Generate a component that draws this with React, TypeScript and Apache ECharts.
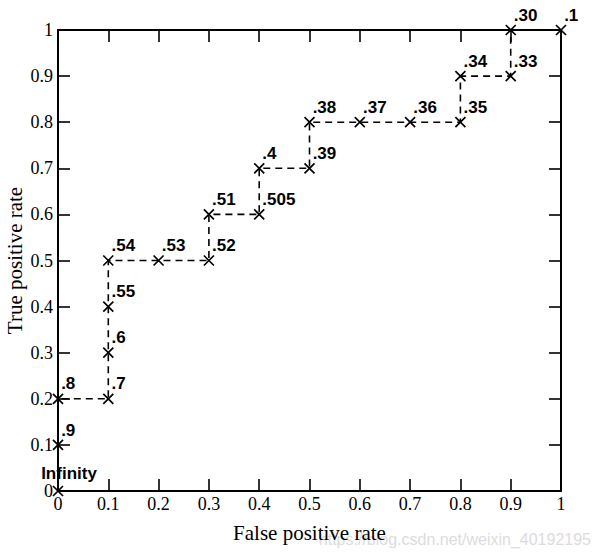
import React, { useEffect, useRef } from "react";
import * as echarts from "echarts";

const fpr = [0, 0, 0, 0.1, 0.1, 0.1, 0.1, 0.2, 0.3, 0.3, 0.4, 0.4, 0.5, 0.5, 0.6, 0.7, 0.8, 0.8, 0.9, 0.9, 1.0];
const tpr = [0, 0.1, 0.2, 0.2, 0.3, 0.4, 0.5, 0.5, 0.5, 0.6, 0.6, 0.7, 0.7, 0.8, 0.8, 0.8, 0.8, 0.9, 0.9, 1.0, 1.0];
const thresholds = ["Infinity", ".9", ".8", ".7", ".6", ".55", ".54", ".53", ".52", ".51", ".505", ".4", ".39", ".38", ".37", ".36", ".35", ".34", ".33", ".30", ".1"];

const xTitle = "False positive rate";
const yTitle = "True positive rate";
const watermark = "https://blog.csdn.net/weixin_40192195";

export default function App() {
  const ref = useRef<HTMLDivElement>(null);
  useEffect(() => {
    if (!ref.current) return;
    const chart = echarts.init(ref.current, null, { renderer: "svg" });
    const serif = "Liberation Serif, Times New Roman, serif";
    const sans = "Liberation Sans, Arial, sans-serif";
    const tickCommon = {
      axisLine: { show: true, onZero: false, lineStyle: { color: "#000", width: 2 } },
      axisTick: { show: true, inside: true, length: 12, lineStyle: { color: "#000", width: 1.6 } },
      splitLine: { show: false },
    };
    const data = fpr.map((x, i) => ({
      value: [x, tpr[i]],
      label:
        i === 0
          ? { position: [-11, -12] as [number, number] }
          : undefined,
    }));
    chart.setOption({
      animation: false,
      backgroundColor: "#fff",
      grid: { left: 58, right: 40, top: 30, bottom: 69, containLabel: false, outerBoundsMode: "none" },
      xAxis: [
        {
          type: "value",
          min: 0,
          max: 1,
          interval: 0.1,
          position: "bottom",
          name: xTitle,
          nameLocation: "middle",
          nameGap: 31,
          nameMoveOverlap: false,
          nameTextStyle: { fontFamily: serif, fontSize: 21, color: "#000" },
          axisLabel: { fontFamily: serif, fontSize: 18, color: "#000", margin: 4 },
          ...tickCommon,
        },
        {
          type: "value",
          min: 0,
          max: 1,
          interval: 0.1,
          position: "top",
          axisLabel: { show: false },
          ...tickCommon,
        },
      ],
      yAxis: [
        {
          type: "value",
          min: 0,
          max: 1,
          interval: 0.1,
          position: "left",
          name: yTitle,
          nameLocation: "middle",
          nameGap: 33,
          nameMoveOverlap: false,
          nameTextStyle: { fontFamily: serif, fontSize: 21, color: "#000" },
          axisLabel: { fontFamily: serif, fontSize: 18, color: "#000", margin: 5 },
          ...tickCommon,
        },
        {
          type: "value",
          min: 0,
          max: 1,
          interval: 0.1,
          position: "right",
          axisLabel: { show: false },
          ...tickCommon,
        },
      ],
      series: [
        {
          type: "line",
          data,
          symbol: "path://M0,0L10,10M10,0L0,10",
          symbolSize: 10,
          showAllSymbol: true,
          lineStyle: { color: "#000", width: 1.6, type: [7, 5] },
          itemStyle: { color: "#000", borderColor: "#000", borderWidth: 1.7 },
          label: {
            show: true,
            formatter: (p: any) => thresholds[p.dataIndex],
            position: [9, -9],
            verticalAlign: "middle",
            align: "left",
            fontFamily: sans,
            fontWeight: "bold",
            fontSize: 17,
            color: "#000",
          },
          z: 3,
        },
      ],
      graphic: [
        {
          type: "text",
          right: 10,
          top: 531,
          style: {
            text: watermark,
            fill: "#dcdcdc",
            font: "16px Liberation Sans, Arial, sans-serif",
          },
        },
      ],
    });
    return () => chart.dispose();
  }, []);
  return (
    <div
      ref={ref}
      style={{ position: "absolute", left: 0, top: 0, width: 601, height: 560 }}
    />
  );
}
